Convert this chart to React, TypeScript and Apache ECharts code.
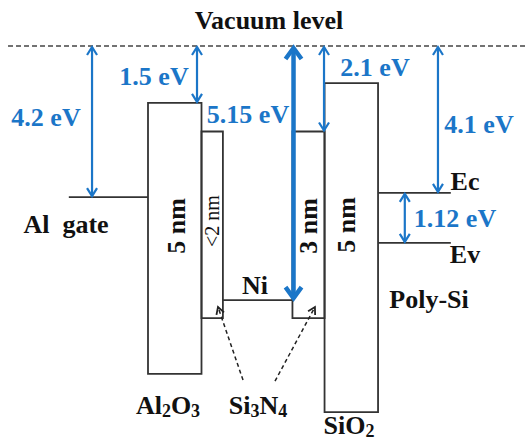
import { useEffect, useRef } from 'react';
import * as echarts from 'echarts';

// Layer stack from the gate side, thickness in nm
const layerNames = ['Al2O3', 'Si3N4', 'Ni', 'Si3N4', 'SiO2'];
const layerThickness = [5, 2, 6.5, 3, 5];
const thicknessLabels = ['5 nm', '<2 nm', '', '3 nm', '5 nm'];

// Contact extents (nm) beyond the stack
const gateExtent = 7.4;
const substrateExtent = 6.8;

// Band edges as drawn, depth below the vacuum level (schematic, not to scale)
const edgeTop = [1.58, 2.375, null, 2.375, 1.03];
const edgeBottom = [9.11, 7.56, null, 7.56, 10.17];
const alGateLevel = 4.2;
const niLevel = 7.06;
const siEc = 4.08;
const siEv = 5.47;

// Quoted energies (eV)
const alWorkFunction = 4.2;
const al2o3Affinity = 1.5;
const niWorkFunction = 5.15;
const si3n4Affinity = 2.1;
const siAffinity = 4.1;
const siBandGap = 1.12;

const W = 525;
const H = 443;
const ORIGIN_X = 148; // px of the gate / Al2O3 interface
const VACUUM_Y = 46; // px of the vacuum level
const PX_PER_NM = 10.7;
const PX_PER_UNIT = 36;

const BLUE = '#1b76c8';
const INK = '#111';
const EDGE = '#333';
const SERIF = '"Liberation Serif", "Times New Roman", "DejaVu Serif", serif';
const FS = 26;

const bounds = layerThickness.reduce<number[]>((acc, t) => [...acc, acc[acc.length - 1] + t], [0]);

function buildOption(): echarts.EChartsOption {
  const boxes = layerNames
    .map((_, i) => (edgeTop[i] == null ? null : [bounds[i], bounds[i + 1], edgeTop[i], edgeBottom[i]]))
    .filter((b) => b !== null) as number[][];

  const levels = [
    [-gateExtent, bounds[0], alGateLevel],
    [bounds[2], bounds[3], niLevel],
    [bounds[5], bounds[5] + substrateExtent, siEc],
    [bounds[5], bounds[5] + substrateExtent, siEv],
  ];

  const xMin = -ORIGIN_X / PX_PER_NM;
  const xMax = (W - ORIGIN_X) / PX_PER_NM;

  // x, from depth, to depth, heavy
  const arrows = [
    [-gateExtent + 2.17, 0, alGateLevel, 0],
    [bounds[1] - 0.42, 0, edgeTop[0] as number, 0],
    [bounds[3] + 0.1, 0, niLevel, 1],
    [bounds[4] - 0.05, 0, edgeTop[3] as number, 0],
    [bounds[5] + 5.6, 0, siEc, 0],
    [bounds[5] + 2.5, siEc, siEv, 0],
  ];

  // pointers from the Si3N4 label to both nitride layers
  const pointers = [
    [8.88, 9.28, bounds[1] + 1.54, 7.25],
    [11.87, 9.31, bounds[3] + 2.1, 7.25],
  ];

  const chevron = (x: number, y: number, ang: number, hw: number, hl: number) => {
    // ang: direction the arrow points (radians, screen space)
    const bx = x - Math.cos(ang) * hl;
    const by = y - Math.sin(ang) * hl;
    const nx = -Math.sin(ang) * hw;
    const ny = Math.cos(ang) * hw;
    return [
      [bx + nx, by + ny],
      [x, y],
      [bx - nx, by - ny],
    ];
  };

  const text = (
    x: number,
    y: number,
    t: string,
    opts: { color?: string; size?: number; weight?: string; rotation?: number } = {}
  ) => ({
    type: 'text' as const,
    x,
    y,
    rotation: opts.rotation ?? 0,
    style: {
      text: t,
      fill: opts.color ?? INK,
      font: `${opts.weight ?? 'bold'} ${opts.size ?? FS}px ${SERIF}`,
      align: 'center' as const,
      verticalAlign: 'middle' as const,
    },
    z: 10,
  });

  const chem = (x: number, y: number, parts: [string, boolean][]) => ({
    type: 'text' as const,
    x,
    y,
    style: {
      text: parts.map(([s, sub]) => `{${sub ? 's' : 'm'}|${s}}`).join(''),
      align: 'center' as const,
      verticalAlign: 'middle' as const,
      rich: {
        m: { fontFamily: SERIF, fontWeight: 'bold', fontSize: FS, fill: INK },
        s: { fontFamily: SERIF, fontWeight: 'bold', fontSize: 18, fill: INK, padding: [12, 0, 0, 0] },
      },
    },
    z: 10,
  });

  const eV = (v: number) => `${v} eV`;

  return {
    animation: false,
    backgroundColor: '#fff',
    grid: { left: 0, top: 0, width: W, height: H },
    xAxis: { type: 'value', min: xMin, max: xMax, show: false },
    yAxis: {
      type: 'value',
      inverse: true,
      min: -VACUUM_Y / PX_PER_UNIT,
      max: (H - VACUUM_Y) / PX_PER_UNIT,
      show: false,
    },
    series: [
      {
        type: 'custom',
        name: 'vacuum',
        data: [[xMin + 0.75, xMax, 0]],
        renderItem: (_p: any, api: any) => {
          const a = api.coord([api.value(0), api.value(2)]);
          const b = api.coord([api.value(1), api.value(2)]);
          return {
            type: 'line',
            shape: { x1: a[0], y1: a[1], x2: b[0], y2: b[1] },
            style: { stroke: '#444', lineWidth: 1.5, lineDash: [5, 3] },
          };
        },
      },
      {
        type: 'custom',
        name: 'layers',
        data: boxes,
        renderItem: (_p: any, api: any) => {
          const a = api.coord([api.value(0), api.value(2)]);
          const b = api.coord([api.value(1), api.value(3)]);
          return {
            type: 'rect',
            shape: { x: a[0], y: a[1], width: b[0] - a[0], height: b[1] - a[1] },
            style: { fill: 'rgba(0,0,0,0)', stroke: EDGE, lineWidth: 1.8 },
          };
        },
      },
      {
        type: 'custom',
        name: 'levels',
        data: levels,
        renderItem: (_p: any, api: any) => {
          const a = api.coord([api.value(0), api.value(2)]);
          const b = api.coord([api.value(1), api.value(2)]);
          return {
            type: 'line',
            shape: { x1: a[0], y1: a[1], x2: b[0], y2: b[1] },
            style: { stroke: EDGE, lineWidth: 1.8 },
          };
        },
      },
      {
        type: 'custom',
        name: 'pointers',
        data: pointers,
        renderItem: (_p: any, api: any) => {
          const a = api.coord([api.value(0), api.value(1)]);
          const b = api.coord([api.value(2), api.value(3)]);
          const ang = Math.atan2(b[1] - a[1], b[0] - a[0]);
          return {
            type: 'group',
            children: [
              {
                type: 'line',
                shape: { x1: a[0], y1: a[1], x2: b[0], y2: b[1] },
                style: { stroke: '#222', lineWidth: 1.5, lineDash: [4, 3] },
              },
              {
                type: 'polyline',
                shape: { points: chevron(b[0], b[1], ang, 4, 7) },
                style: { stroke: '#222', lineWidth: 1.8, fill: null },
              },
            ],
          };
        },
      },
      {
        type: 'custom',
        name: 'energies',
        data: arrows,
        z: 5,
        renderItem: (_p: any, api: any) => {
          const heavy = api.value(3) === 1;
          const top = api.coord([api.value(0), api.value(1)]);
          const bot = api.coord([api.value(0), api.value(2)]);
          const lw = heavy ? 4.5 : 2.2;
          const hw = heavy ? 8 : 5;
          const hl = heavy ? 11 : 8;
          const x = top[0];
          const y0 = top[1] + (heavy ? 2 : 1);
          const y1 = bot[1] - (heavy ? 2 : 1);
          return {
            type: 'group',
            children: [
              {
                type: 'line',
                shape: { x1: x, y1: y0, x2: x, y2: y1 },
                style: { stroke: BLUE, lineWidth: lw },
              },
              {
                type: 'polyline',
                shape: { points: chevron(x, y0, -Math.PI / 2, hw, hl) },
                style: { stroke: BLUE, lineWidth: lw, fill: null },
              },
              {
                type: 'polyline',
                shape: { points: chevron(x, y1, Math.PI / 2, hw, hl) },
                style: { stroke: BLUE, lineWidth: lw, fill: null },
              },
            ],
          };
        },
      },
    ],
    graphic: [
      text(269, 20, 'Vacuum level'),
      text(46, 117, eV(alWorkFunction), { color: BLUE }),
      text(154, 76, eV(al2o3Affinity), { color: BLUE }),
      text(248, 114, eV(niWorkFunction), { color: BLUE }),
      text(375, 67, eV(si3n4Affinity), { color: BLUE }),
      text(479, 124, eV(siAffinity), { color: BLUE }),
      text(455, 218, eV(siBandGap), { color: BLUE }),
      text(465, 181, 'Ec'),
      text(465, 254, 'Ev'),
      text(66, 224, 'Al  gate'),
      text(255, 285, layerNames[2]),
      text(429, 299, 'Poly-Si'),
      text(176, 226, thicknessLabels[0], { rotation: Math.PI / 2 }),
      text(212, 221, thicknessLabels[1], { rotation: Math.PI / 2, weight: 'normal', size: 20 }),
      text(308, 226, thicknessLabels[3], { rotation: Math.PI / 2 }),
      text(346, 225, thicknessLabels[4], { rotation: Math.PI / 2 }),
      chem(168, 405, [['Al', false], ['2', true], ['O', false], ['3', true]]),
      chem(258, 405, [['Si', false], ['3', true], ['N', false], ['4', true]]),
      chem(349, 425, [['SiO', false], ['2', true]]),
    ],
  } as echarts.EChartsOption;
}

export default function App() {
  const ref = useRef<HTMLDivElement>(null);
  useEffect(() => {
    if (!ref.current) return;
    const chart = echarts.init(ref.current, undefined, { renderer: 'svg' });
    chart.setOption(buildOption());
    return () => chart.dispose();
  }, []);
  return (
    <div
      ref={ref}
      style={{ position: 'absolute', left: 0, top: 0, width: W, height: H, background: '#fff' }}
    />
  );
}
